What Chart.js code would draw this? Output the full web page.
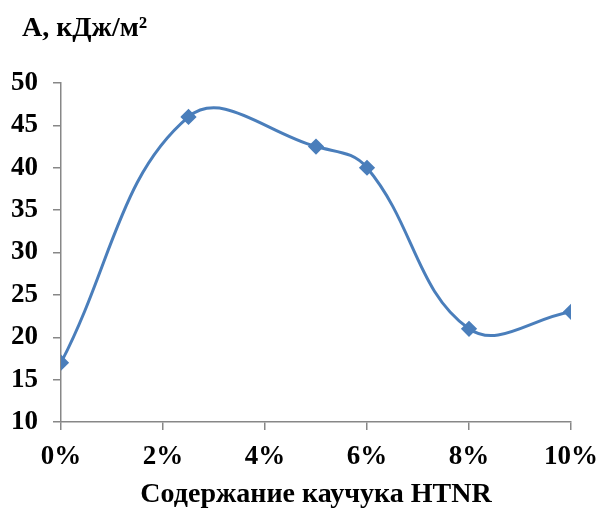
<!DOCTYPE html>
<html>
<head>
<meta charset="utf-8">
<script src="https://cdn.jsdelivr.net/npm/chart.js@4.4.1/dist/chart.umd.min.js"></script>
<style>
  html, body { margin: 0; padding: 0; background: #fff; }
  #wrap { width: 602px; height: 509px; }
</style>
</head>
<body>
<div id="wrap"><canvas id="myChart" width="602" height="509"></canvas></div>
<script>
// данные с графика
var rubberContent = [0, 2.5, 5, 6, 8, 10];      // % каучука HTNR
var impactStrength = [17, 46, 42.5, 40, 21, 23]; // А, кДж/м2
var xTicks = [0, 2, 4, 6, 8, 10];
var yTicks = [10, 15, 20, 25, 30, 35, 40, 45, 50];

var axisColor = '#878787';
var lineColor = '#4a7ebb';
var fontFamily = '"Liberation Serif", "Times New Roman", serif';

// подпись оси Y сверху слева
var yTitlePlugin = {
    id: 'yTitle',
    afterDraw: function(chart) {
        var c = chart.ctx;
        c.save();
        c.font = 'bold 28px ' + fontFamily;
        c.fillStyle = '#000';
        c.textBaseline = 'alphabetic';
        c.textAlign = 'left';
        c.fillText('А, кДж/м²', 22, 36);
        c.restore();
    }
};

var ctx = document.getElementById('myChart').getContext('2d');
var myChart = new Chart(ctx, {
    type: 'line',
    data: {
        datasets: [{
            data: rubberContent.map(function(x, i) { return { x: x, y: impactStrength[i] }; }),
            borderColor: lineColor,
            backgroundColor: lineColor,
            borderWidth: 3,
            tension: 0.4,
            pointStyle: 'rectRot',
            pointRadius: 6,
            pointHoverRadius: 6,
            fill: false
        }]
    },
    options: {
        responsive: false,
        animation: false,
        layout: {
            padding: { left: 0, right: 0, top: 83, bottom: 0 }
        },
        plugins: {
            legend: { display: false },
            tooltip: { enabled: false }
        },
        scales: {
            x: {
                type: 'linear',
                min: 0,
                max: 10,
                afterBuildTicks: function(scale) {
                    scale.ticks = xTicks.map(function(v) { return { value: v }; });
                },
                afterFit: function(scale) {
                    scale.height = 87;
                    scale.paddingRight = 31;
                },
                grid: {
                    drawOnChartArea: false,
                    drawTicks: true,
                    tickLength: 8,
                    color: axisColor,
                    lineWidth: 1.5
                },
                border: { display: true, color: axisColor, width: 1.5 },
                ticks: {
                    color: '#000',
                    padding: 11,
                    font: { family: fontFamily, size: 27, weight: 'bold' },
                    callback: function(value) { return value + '%'; },
                    maxRotation: 0
                },
                title: {
                    display: true,
                    text: 'Содержание каучука HTNR',
                    color: '#000',
                    font: { family: fontFamily, size: 28, weight: 'bold', lineHeight: 1.0 },
                    padding: { top: 0, bottom: 0 }
                }
            },
            y: {
                min: 10,
                max: 50,
                afterBuildTicks: function(scale) {
                    scale.ticks = yTicks.map(function(v) { return { value: v }; });
                },
                afterFit: function(scale) { scale.width = 61; },
                grid: {
                    drawOnChartArea: false,
                    drawTicks: true,
                    tickLength: 8,
                    color: axisColor,
                    lineWidth: 1.5
                },
                border: { display: true, color: axisColor, width: 1.5 },
                ticks: {
                    color: '#000',
                    padding: 15,
                    font: { family: fontFamily, size: 27, weight: 'bold' }
                }
            }
        }
    },
    plugins: [yTitlePlugin]
});
</script>
</body>
</html>
